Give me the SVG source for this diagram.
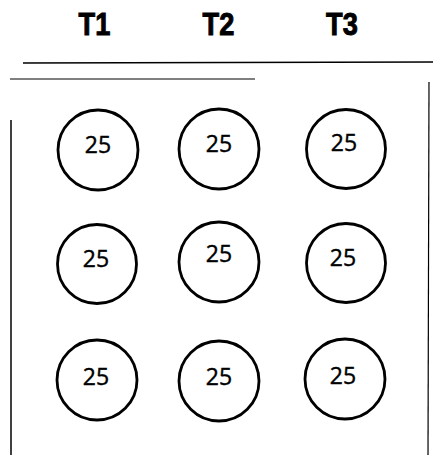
<svg xmlns="http://www.w3.org/2000/svg" width="433" height="455" viewBox="0 0 433 455">
<style>
.hdr{font-family:"Liberation Sans",Arial,sans-serif;font-weight:bold;font-size:32px;fill:#000;stroke:#000;stroke-width:1;text-anchor:middle}
.well{fill:#fff;stroke:#000;stroke-width:2.8}
.num{font-family:"Open Sans","Liberation Sans",sans-serif;font-size:23px;fill:#000;stroke:#000;stroke-width:0.4;text-anchor:middle}
.frame{stroke:#000;fill:none}
</style>
<rect width="433" height="455" fill="#fff"/>
<g id="headers">
<text class="hdr" x="94.5" y="35" transform="translate(94.5 0) scale(0.85 1) translate(-94.5 0)">T1</text>
<text class="hdr" x="218.5" y="35" transform="translate(218.5 0) scale(0.85 1) translate(-218.5 0)">T2</text>
<text class="hdr" x="342" y="35" transform="translate(342 0) scale(0.85 1) translate(-342 0)">T3</text>
</g>
<g id="frame">
<path class="frame" stroke-width="1.5" d="M23 63 L433 62"/>
<path class="frame" stroke-width="1" stroke="#444" d="M10 79 L255 79"/>
<path class="frame" stroke-width="1.5" d="M11 120 L11 455"/>
<path class="frame" stroke-width="1.2" stroke="#333" d="M429 82 L428 455"/>
</g>
<g id="w11"><circle class="well" cx="98" cy="150" r="40"/><text class="num" x="98" y="153">25</text></g>
<g id="w12"><circle class="well" cx="219" cy="149" r="40"/><text class="num" x="219" y="152">25</text></g>
<g id="w13"><circle class="well" cx="346" cy="149" r="39.5"/><text class="num" x="344" y="151">25</text></g>
<g id="w21"><circle class="well" cx="97" cy="264" r="39.5"/><text class="num" x="96" y="267">25</text></g>
<g id="w22"><circle class="well" cx="219" cy="262" r="40"/><text class="num" x="219" y="262">25</text></g>
<g id="w23"><circle class="well" cx="346" cy="263" r="39.5"/><text class="num" x="343" y="266">25</text></g>
<g id="w31"><circle class="well" cx="97" cy="380" r="40"/><text class="num" x="96" y="385">25</text></g>
<g id="w32"><circle class="well" cx="219" cy="381" r="40"/><text class="num" x="219" y="385">25</text></g>
<g id="w33"><circle class="well" cx="345" cy="379" r="40"/><text class="num" x="343" y="384">25</text></g>
</svg>
